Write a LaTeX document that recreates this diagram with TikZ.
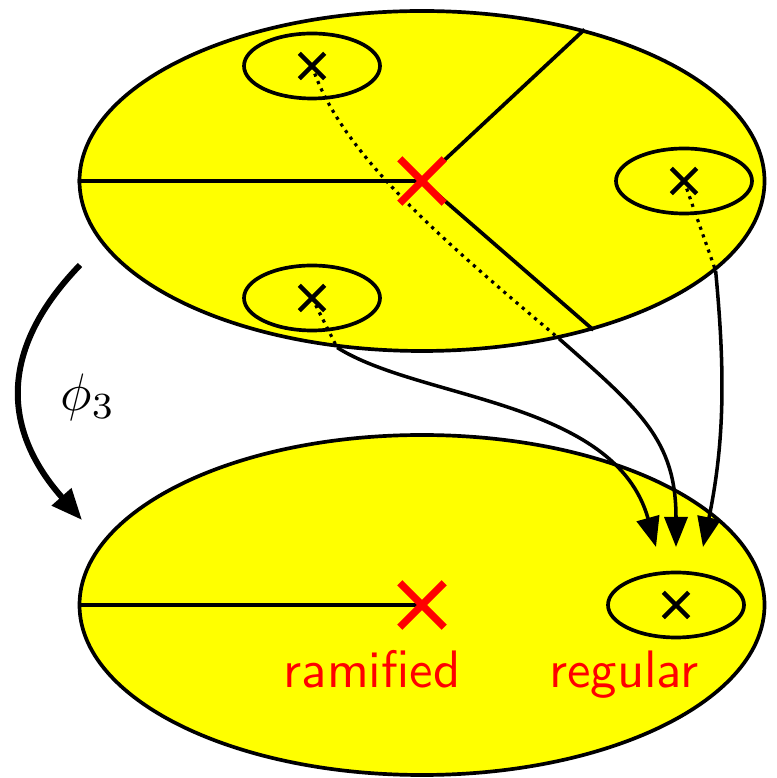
\documentclass[tikz,border=0pt]{standalone}
\usepackage{tikz}
\usetikzlibrary{shapes.geometric, shapes.misc, arrows.meta, positioning}
\definecolor{sheetyellow}{RGB}{255,255,0}
\definecolor{branchred}{RGB}{255,0,0}
\tikzset{
  sheet/.style={ellipse, draw, fill=sheetyellow, line width=2.1pt,
    minimum width=13.7cm, minimum height=6.8cm, inner sep=0},
  disc/.style={ellipse, draw, line width=2.1pt,
    minimum width=2.72cm, minimum height=1.3cm, inner sep=0},
  pt/.style={cross out, draw, line width=2.5pt, minimum size=0.42cm, inner sep=0},
  branchpt/.style={cross out, draw=branchred, line width=4.2pt, minimum size=0.74cm, inner sep=0},
  cut/.style={line width=2.1pt},
  lift/.style={line width=1.8pt, dash pattern=on 1.8pt off 2.8pt},
  arrow/.style={-{Triangle[length=0.6cm, width=0.46cm]}, line width=2pt},
  maparrow/.style={-{Triangle[length=0.62cm, width=0.5cm]}, line width=3.4pt},
  lbl/.style={text=branchred, font=\sffamily, scale=3.0, anchor=base}
}

\begin{document}
\begin{tikzpicture}
  \useasboundingbox (0,0) rectangle (15.52,15.56);

  % Sheets
  \node[sheet] (cover) at (8.44,11.94) {};
  \node[sheet] (base) at (8.44,3.46) {};

  % Cuts
  \coordinate (ctop) at (8.44,11.94);
  \draw[cut] (cover.west) -- (ctop) -- (cover.43);
  \draw[cut] (ctop) -- (cover.-41);
  \draw[cut] (base.west) -- (base.center);

  % Small discs
  \node[disc] (d1) at (6.24,14.24) {};
  \node[disc] (d2) at (13.68,11.94) {};
  \node[disc] (d3) at (6.24,9.6) {};
  \node[disc] (d0) at (13.52,3.46) {};

  % Lifts inside the cover
  \coordinate (e1) at (cover.-49);
  \coordinate (e2) at (cover.-17);
  \coordinate (e3) at (cover.243);
  \draw[lift] (d1.center) .. controls (6.8,12.56) and (8.6,10.96) .. (e1);
  \draw[lift] (d2.center) -- (e2);
  \draw[lift] (d3.center) -- (e3);

  % Projections
  \coordinate (t1) at (13.12,4.62);
  \coordinate (t2) at (13.52,4.62);
  \coordinate (t3) at (14.06,4.62);
  \draw[arrow] (e1) .. controls (12.8,7.36) and (13.52,6.76) .. (t2);
  \draw[arrow] (e2) .. controls (14.5,8.16) and (14.5,6.76) .. (t3);
  \draw[arrow] (e3) .. controls (8.4,7.56) and (12.3,7.56) .. (t1);

  % Points
  \node[pt] (p1) at (d1) {};
  \node[pt] (p2) at (d2) {};
  \node[pt] (p3) at (d3) {};
  \node[pt] (p0) at (d0) {};
  \node[branchpt] (r1) at (ctop) {};
  \node[branchpt] (r0) at (base.center) {};

  % Covering map
  \coordinate (m1) at (1.6,10.26);
  \coordinate (m2) at (1.64,5.16);
  \draw[maparrow] (m1) .. controls (-0.1,8.5) and (0.1,6.9) .. (m2);
  \node[scale=3.0] (phi) at (1.76,7.62) {$\phi_3$};

  % Labels
  \node[lbl] (ram) at (7.44,1.8) {ramified};
  \node[lbl] (reg) at (12.48,1.8) {regular};
\end{tikzpicture}
\end{document}
